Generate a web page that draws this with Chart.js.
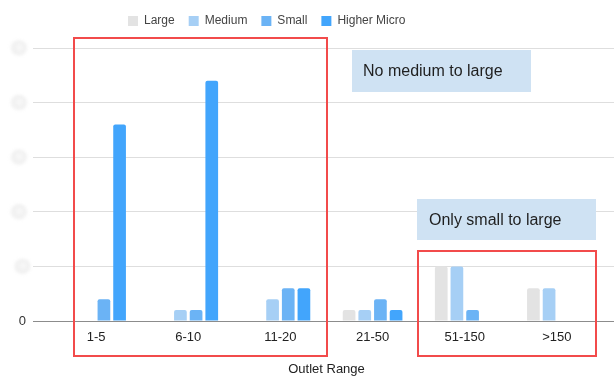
<!DOCTYPE html>
<html>
<head>
<meta charset="utf-8">
<script src="https://cdn.jsdelivr.net/npm/chart.js@4.4.1/dist/chart.umd.min.js"></script>
<style>
  body { margin: 0; background: #fff; }
  #wrap { width: 614px; height: 378px; }
</style>
</head>
<body>
<div id="wrap"><canvas id="myChart"></canvas></div>
<script>
// outlet counts per size band
const ranges = ['1-5', '6-10', '11-20', '21-50', '51-150', '>150'];
const large = [0, 0, 0, 1, 5, 3];
const medium = [0, 1, 2, 1, 5, 3];
const small = [2, 1, 3, 2, 1, 0];
const higherMicro = [18, 22, 3, 1, 0, 0];
const yMax = 25;
const yStep = 5;

const FONT = '"Liberation Sans", Arial, sans-serif';

// callouts and highlight frames
const notes = [
    { text: 'No medium to large', x: 352, y: 50, w: 179, h: 42, tx: 363 },
    { text: 'Only small to large', x: 417, y: 199, w: 179, h: 41, tx: 429 }
];
const frames = [
    { x: 74, y: 38, w: 253, h: 318 },
    { x: 418, y: 251, w: 178, h: 105 }
];

const extras = {
    id: 'extras',
    beforeInit(chart) {
        const fit = chart.legend.fit;
        chart.legend.fit = function () {
            fit.call(this);
            this.height = 48;
        };
    },
    afterLayout(chart) {
        // legend sits left of centre
        chart.legend.left = 114;
        chart.legend.top = 1;
    },
    beforeDatasetsDraw(chart) {
        // gridlines run on past the plot to the right edge
        const { ctx, chartArea, scales } = chart;
        ctx.save();
        ctx.lineWidth = 1;
        for (let v = 0; v <= yMax; v += yStep) {
            const py = Math.round(scales.y.getPixelForValue(v) - 0.5) + 0.5;
            ctx.strokeStyle = v === 0 ? '#8c8c8c' : '#dedede';
            ctx.beginPath();
            ctx.moveTo(chartArea.right, py);
            ctx.lineTo(chart.width, py);
            ctx.stroke();
        }
        ctx.restore();
    },
    afterDraw(chart) {
        const { ctx, scales } = chart;
        ctx.save();
        // smudged axis values
        ctx.font = '13px ' + FONT;
        ctx.filter = 'blur(1.5px)';
        for (let v = yStep; v <= yMax; v += yStep) {
            const py = scales.y.getPixelForValue(v);
            const cx = 26 - ctx.measureText(String(v)).width / 2;
            const g = ctx.createRadialGradient(cx + 1, py - 1, 1, cx, py, 9);
            g.addColorStop(0, '#f8f8f8');
            g.addColorStop(0.6, '#f0f0f0');
            g.addColorStop(1, 'rgba(228,228,228,0)');
            ctx.fillStyle = g;
            ctx.beginPath();
            ctx.ellipse(cx, py, 9, 8, 0, 0, Math.PI * 2);
            ctx.fill();
        }
        ctx.filter = 'none';

        notes.forEach(n => {
            ctx.fillStyle = '#cfe2f3';
            ctx.fillRect(n.x, n.y, n.w, n.h);
            ctx.fillStyle = '#1f1f1f';
            ctx.font = '16px ' + FONT;
            ctx.textBaseline = 'middle';
            ctx.textAlign = 'left';
            ctx.fillText(n.text, n.tx, n.y + n.h / 2 + 1);
        });

        ctx.strokeStyle = '#f24b4b';
        ctx.lineWidth = 2;
        frames.forEach(f => ctx.strokeRect(f.x, f.y, f.w, f.h));
        ctx.restore();
    }
};

new Chart(document.getElementById('myChart'), {
    type: 'bar',
    data: {
        labels: ranges,
        datasets: [
            { label: 'Large', data: large, backgroundColor: '#e3e3e3' },
            { label: 'Medium', data: medium, backgroundColor: '#a6cff5' },
            { label: 'Small', data: small, backgroundColor: '#6bb3f5' },
            { label: 'Higher Micro', data: higherMicro, backgroundColor: '#42a5fc' }
        ]
    },
    options: {
        responsive: true,
        maintainAspectRatio: false,
        animation: false,
        layout: { padding: { left: 0, right: 11, top: 0, bottom: 0 } },
        datasets: {
            bar: {
                categoryPercentage: 0.68,
                barPercentage: 0.81,
                borderRadius: 2,
                borderSkipped: 'start'
            }
        },
        plugins: {
            tooltip: { enabled: false },
            legend: {
                position: 'top',
                align: 'start',
                labels: {
                    boxWidth: 10,
                    boxHeight: 10,
                    padding: 14,
                    color: '#444',
                    font: { family: FONT, size: 12 }
                }
            }
        },
        scales: {
            x: {
                afterFit(scale) { scale.height = 57; },
                grid: { display: false, drawTicks: false },
                border: { display: false },
                ticks: {
                    padding: 9,
                    color: '#222',
                    font: { family: FONT, size: 13 }
                },
                title: {
                    display: true,
                    text: 'Outlet Range',
                    color: '#222',
                    font: { family: FONT, size: 13 },
                    padding: { top: 0, bottom: 1 }
                }
            },
            y: {
                min: 0,
                max: yMax,
                afterFit(scale) { scale.width = 50; },
                border: { display: false },
                grid: {
                    tickLength: 17,
                    color: ctx => ctx.tick && ctx.tick.value === 0 ? '#8c8c8c' : '#dedede'
                },
                ticks: {
                    stepSize: yStep,
                    padding: 7,
                    color: '#333',
                    font: { family: FONT, size: 13 },
                    // only the zero label is legible
                    callback: v => v === 0 ? '0' : ''
                }
            }
        }
    },
    plugins: [extras]
});
</script>
</body>
</html>
